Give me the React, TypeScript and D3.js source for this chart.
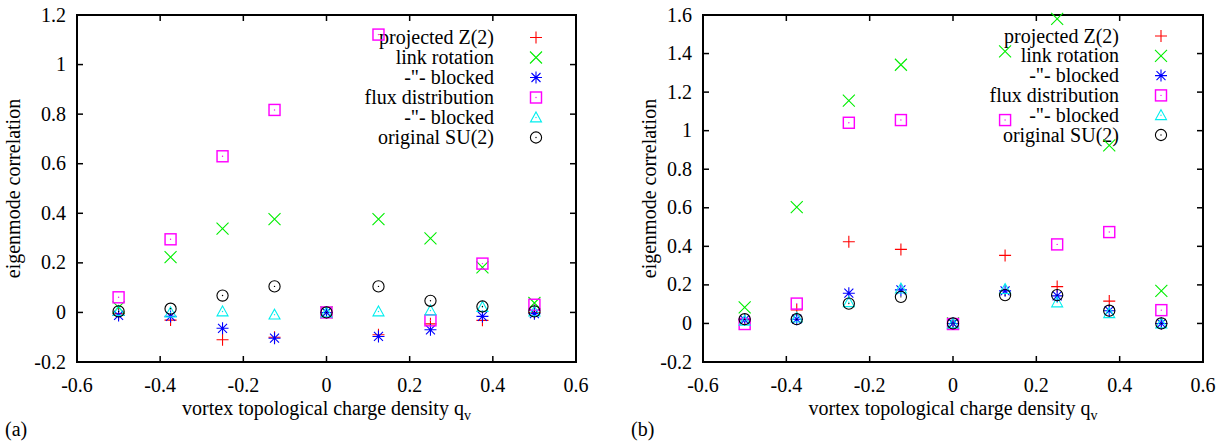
import React from "react";
import * as d3 from "d3";

// ---------- data ----------
const qv = [-0.5, -0.375, -0.25, -0.125, 0, 0.125, 0.25, 0.375, 0.5];

const seriesNames = [
  "projected Z(2)",
  "link rotation",
  "-\"- blocked",
  "flux distribution",
  "-\"- blocked",
  "original SU(2)",
];

// panel (a)
const aProjected = [-0.005, -0.031, -0.11, -0.1, 0, -0.09, -0.046, -0.032, 0.0];
const aLink = [0.02, 0.223, 0.338, 0.376, 0, 0.376, 0.299, 0.182, 0.038];
const aLinkBlocked = [-0.012, -0.016, -0.064, -0.104, 0, -0.097, -0.07, -0.016, -0.005];
const aFlux = [0.061, 0.295, 0.63, 0.817, 0, 1.121, -0.032, 0.197, 0.031];
const aFluxBlocked = [0.006, 0.0, 0.004, -0.009, 0, 0.004, 0.008, 0.022, 0.004];
const aOriginal = [0.004, 0.015, 0.068, 0.105, 0, 0.105, 0.047, 0.024, 0.004];

// panel (b)
const bProjected = [0.02, 0.07, 0.424, 0.384, 0, 0.353, 0.191, 0.116, 0.0];
const bLink = [0.083, 0.603, 1.156, 1.342, 0, 1.411, 1.58, 0.924, 0.169];
const bLinkBlocked = [0.019, 0.022, 0.157, 0.174, 0, 0.169, 0.143, 0.066, 0];
const bFlux = [-0.003, 0.103, 1.041, 1.055, -0.003, 1.055, 0.41, 0.474, 0.069];
const bFluxBlocked = [0.014, 0.03, 0.11, 0.181, 0, 0.178, 0.109, 0.053, 0];
const bOriginal = [0.022, 0.022, 0.103, 0.138, 0, 0.147, 0.147, 0.066, 0];

const xTicks = [-0.6, -0.4, -0.2, 0, 0.2, 0.4, 0.6];
const xTickLabels = ["-0.6", "-0.4", "-0.2", "0", "0.2", "0.4", "0.6"];
const aYTicks = [-0.2, 0, 0.2, 0.4, 0.6, 0.8, 1, 1.2];
const aYTickLabels = ["-0.2", "0", "0.2", "0.4", "0.6", "0.8", "1", "1.2"];
const bYTicks = [-0.2, 0, 0.2, 0.4, 0.6, 0.8, 1, 1.2, 1.4, 1.6];
const bYTickLabels = ["-0.2", "0", "0.2", "0.4", "0.6", "0.8", "1", "1.2", "1.4", "1.6"];

// ---------- styles ----------
const FONT = "Liberation Serif, Times New Roman, DejaVu Serif, serif";
const FS = 20;
const COLORS = ["#ff0000", "#00ee00", "#0000ff", "#ff00ff", "#00eeee", "#000000"];
const SHAPES = ["plus", "cross", "star", "square", "triangle", "circle"];
const txt = { fontFamily: FONT, fontSize: FS, fill: "#000" } as React.CSSProperties;

function Marker({ shape, x, y, color }: { shape: string; x: number; y: number; color: string }) {
  const s = 6;
  const sw = 1.1;
  if (shape === "plus") {
    return <path d={`M${x - s},${y}H${x + s}M${x},${y - s}V${y + s}`} stroke={color} strokeWidth={sw} fill="none" />;
  }
  if (shape === "cross") {
    return (
      <path
        d={`M${x - s},${y - s}L${x + s},${y + s}M${x - s},${y + s}L${x + s},${y - s}`}
        stroke={color}
        strokeWidth={sw}
        fill="none"
      />
    );
  }
  if (shape === "star") {
    return (
      <path
        d={`M${x - s},${y}H${x + s}M${x},${y - s}V${y + s}M${x - s * 0.75},${y - s * 0.75}L${x + s * 0.75},${y + s * 0.75}M${x - s * 0.75},${y + s * 0.75}L${x + s * 0.75},${y - s * 0.75}`}
        stroke={color}
        strokeWidth={sw}
        fill="none"
      />
    );
  }
  const dot = <circle cx={x} cy={y} r={0.7} fill={color} />;
  if (shape === "square") {
    return (
      <g>
        <rect x={x - s + 0.5} y={y - s + 0.5} width={2 * s - 1} height={2 * s - 1} stroke={color} strokeWidth={sw * 1.3} fill="none" />
        {dot}
      </g>
    );
  }
  if (shape === "triangle") {
    const t = 5.5;
    return (
      <g>
        <path d={`M${x},${y - t}L${x + t},${y + t * 0.8}L${x - t},${y + t * 0.8}Z`} stroke={color} strokeWidth={sw} fill="none" />
        {dot}
      </g>
    );
  }
  return (
    <g>
      <circle cx={x} cy={y} r={5.6} stroke={color} strokeWidth={sw} fill="none" />
      {dot}
    </g>
  );
}

type PanelProps = {
  left: number;
  right: number;
  top: number;
  bottom: number;
  yDomain: [number, number];
  yTicks: number[];
  yTickLabels: string[];
  series: number[][];
  legendTextX: number;
  legendMarkX: number;
  legendY0: number;
  legendDy: number;
  tag: string;
  tagX: number;
  yTitleX: number;
};

function Panel(p: PanelProps) {
  const x = d3.scaleLinear().domain([-0.6, 0.6]).range([p.left, p.right]);
  const y = d3.scaleLinear().domain(p.yDomain).range([p.bottom, p.top]);
  const tl = 6;
  const midX = (p.left + p.right) / 2;
  const midY = (p.top + p.bottom) / 2;
  return (
    <g>
      {xTicks.map((t, i) => (
        <g key={"xt" + i}>
          <line x1={x(t)} x2={x(t)} y1={p.bottom} y2={p.bottom - tl} stroke="#000" strokeWidth={1.5} />
          <line x1={x(t)} x2={x(t)} y1={p.top} y2={p.top + tl} stroke="#000" strokeWidth={1.5} />
          <text x={x(t)} y={392} textAnchor="middle" style={txt}>
            {xTickLabels[i]}
          </text>
        </g>
      ))}
      {p.yTicks.map((t, i) => (
        <g key={"yt" + i}>
          <line x1={p.left} x2={p.left + tl} y1={y(t)} y2={y(t)} stroke="#000" strokeWidth={1.5} />
          <line x1={p.right} x2={p.right - tl} y1={y(t)} y2={y(t)} stroke="#000" strokeWidth={1.5} />
          <text x={p.left - 11} y={y(t)} dy="0.33em" textAnchor="end" style={txt}>
            {p.yTickLabels[i]}
          </text>
        </g>
      ))}
      <rect
        x={p.left}
        y={p.top}
        width={p.right - p.left}
        height={p.bottom - p.top}
        fill="none"
        stroke="#000"
        strokeWidth={2}
      />
      <text x={midX} y={415} textAnchor="middle" style={txt}>
        vortex topological charge density q
        <tspan style={{ fontSize: 14 }} dy={5}>v</tspan>
      </text>
      <text
        transform={`translate(${p.yTitleX},${midY}) rotate(-90)`}
        textAnchor="middle"
        style={txt}
      >
        eigenmode correlation
      </text>
      <text x={p.tagX} y={436} style={txt}>
        {p.tag}
      </text>
      {seriesNames.map((n, i) => (
        <g key={"lg" + i}>
          <text
            x={p.legendTextX}
            y={p.legendY0 + i * p.legendDy}
            dy="0.33em"
            textAnchor="end"
            style={txt}
          >
            {n}
          </text>
          <Marker shape={SHAPES[i]} x={p.legendMarkX} y={p.legendY0 + i * p.legendDy} color={COLORS[i]} />
        </g>
      ))}
      {p.series.map((vals, si) => (
        <g key={"s" + si}>
          {vals.map((v, j) => (
            <Marker key={j} shape={SHAPES[si]} x={x(qv[j])} y={y(v)} color={COLORS[si]} />
          ))}
        </g>
      ))}
    </g>
  );
}

export default function App() {
  return (
    <svg
      width={1231}
      height={443}
      style={{ position: "absolute", left: 0, top: 0, background: "#fff" }}
    >
      <rect x={0} y={0} width={1231} height={443} fill="#fff" />
      <Panel
        left={77}
        right={576}
        top={15}
        bottom={362}
        yDomain={[-0.2, 1.2]}
        yTicks={aYTicks}
        yTickLabels={aYTickLabels}
        series={[aProjected, aLink, aLinkBlocked, aFlux, aFluxBlocked, aOriginal]}
        legendTextX={494}
        legendMarkX={536}
        legendY0={37.5}
        legendDy={20}
        tag="(a)"
        tagX={5}
        yTitleX={20}
      />
      <Panel
        left={703}
        right={1203}
        top={15}
        bottom={362}
        yDomain={[-0.2, 1.6]}
        yTicks={bYTicks}
        yTickLabels={bYTickLabels}
        series={[bProjected, bLink, bLinkBlocked, bFlux, bFluxBlocked, bOriginal]}
        legendTextX={1119}
        legendMarkX={1161}
        legendY0={36}
        legendDy={19.8}
        tag="(b)"
        tagX={631}
        yTitleX={656}
      />
    </svg>
  );
}
